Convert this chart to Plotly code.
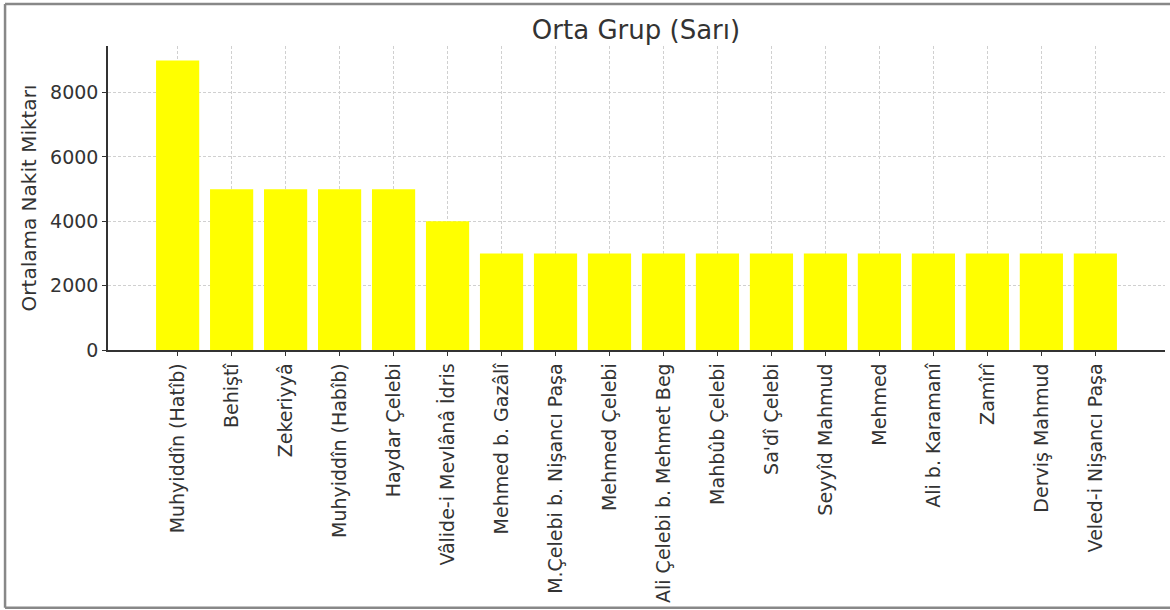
import plotly.graph_objects as go

categories = [
    "Muhyiddîn (Hatîb)", "Behiştî", "Zekeriyyâ", "Muhyiddîn (Habîb)", "Haydar Çelebi",
    "Vâlide-i Mevlânâ İdris", "Mehmed b. Gazâlî", "M.Çelebi b. Nişancı Paşa", "Mehmed Çelebi",
    "Ali Çelebi b. Mehmet Beg", "Mahbûb Çelebi", "Sa'dî Çelebi", "Seyyîd Mahmud", "Mehmed",
    "Ali b. Karamanî", "Zamîrî", "Derviş Mahmud", "Veled-i Nişancı Paşa",
]
values = [9000, 5000, 5000, 5000, 5000, 4000, 3000, 3000, 3000,
          3000, 3000, 3000, 3000, 3000, 3000, 3000, 3000, 3000]
y_ticks = [0, 2000, 4000, 6000, 8000]

font_family = "DejaVu Sans"
text_color = "#333333"

fig = go.Figure(go.Bar(
    x=list(range(len(categories))),
    y=values,
    width=0.8,
    marker=dict(color="#FFFF00", line=dict(width=0)),
))

frame = dict(color="#888888", width=2.5)
fig.update_layout(
    width=1170, height=610,
    margin=dict(l=108, r=5, t=46, b=260),
    paper_bgcolor="white", plot_bgcolor="white",
    showlegend=False,
    font=dict(family=font_family, color=text_color, size=19),
    title=dict(text="Orta Grup (Sarı)", x=0.5436, xanchor="center", y=0.951, yanchor="middle",
               font=dict(family=font_family, size=26, color=text_color)),
    xaxis=dict(
        range=[-1.29, 18.29],
        automargin=False,
        tickmode="array",
        tickvals=list(range(len(categories))),
        ticktext=categories,
        tickangle=-90,
        showgrid=True, gridcolor="#d0d0d0", griddash="3px,2px", gridwidth=1,
        showline=True, linecolor="#333333", linewidth=1.5,
        ticks="outside", ticklen=4, tickcolor="#333333",
        zeroline=False,
        tickfont=dict(size=19, color=text_color),
    ),
    yaxis=dict(
        range=[0, 9450],
        automargin=False,
        tickmode="array",
        tickvals=y_ticks,
        ticktext=[str(v) for v in y_ticks],
        showgrid=True, gridcolor="#d0d0d0", griddash="3px,2px", gridwidth=1,
        showline=True, linecolor="#333333", linewidth=1.5,
        ticks="outside", ticklen=4, tickcolor="#333333",
        zeroline=False,
        tickfont=dict(size=19, color=text_color),
        title=dict(text="Ortalama Nakit Miktarı", font=dict(size=20, color=text_color), standoff=8),
    ),
    shapes=[
        dict(type="line", xref="paper", yref="paper", x0=-0.0974, x1=1.01, y0=1.138, y1=1.138, line=frame),
        dict(type="line", xref="paper", yref="paper", x0=-0.0974, x1=-0.0974, y0=-0.848, y1=1.138, line=frame),
        dict(type="line", xref="paper", yref="paper", x0=-0.0974, x1=1.01, y0=-0.848, y1=-0.848, line=frame),
    ],
)

fig.write_html("out.html", config={"displayModeBar": False},
               post_script="document.body.style.margin='0';document.body.style.overflow='hidden';")
